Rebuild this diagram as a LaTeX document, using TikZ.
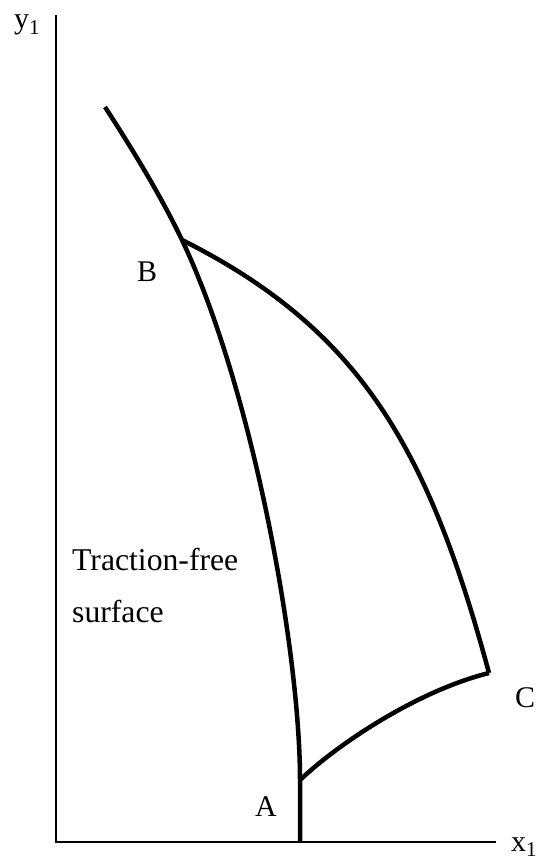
\documentclass[tikz,border=0pt]{standalone}
\usepackage{fontspec}
\setmainfont{Liberation Serif}
\begin{document}
\begin{tikzpicture}[x=1pt,y=-1pt,
  axis/.style={line width=2.8pt},
  curve/.style={line width=4.5pt,line join=miter},
  lbl/.style={anchor=base west,inner sep=0pt,font=\fontsize{30}{32}\selectfont},
  txt/.style={anchor=base west,inner sep=0pt,font=\fontsize{31.7}{34}\selectfont}]
\useasboundingbox (0,0) rectangle (540,861);
% key points
\coordinate (O) at (56,842);
\coordinate (Ytop) at (56,15);
\coordinate (Xend) at (496,842);
\coordinate (T) at (105,107);
\coordinate (B) at (182,240);
\coordinate (A) at (300,780);
\coordinate (Abot) at (300,842);
\coordinate (C) at (489,673);
% axes
\draw[axis] (Ytop) -- (O) -- (Xend);
% traction-free surface
\draw[curve] (T) .. controls (133,150) and (162,198) .. (B)
  .. controls (252,387) and (300,650) .. (A) -- (Abot);
% B to C
\draw[curve] (B) .. controls (362,330) and (429,451) .. (C);
% A to C
\draw[curve] (A) .. controls (340,742) and (420,690) .. (C);
% labels
\node[lbl] (lB) at (137,281) {B};
\node[lbl] (lA) at (255,816) {A};
\node[lbl] (lC) at (515,707) {C};
\node[lbl] (ly) at (14,29) {y\textsubscript{1}};
\node[lbl] (lx) at (511,851) {x\textsubscript{1}};
\node[txt] (t1) at (72,570) {Traction-free};
\node[txt] (t2) at (72,622) {surface};
\end{tikzpicture}
\end{document}
